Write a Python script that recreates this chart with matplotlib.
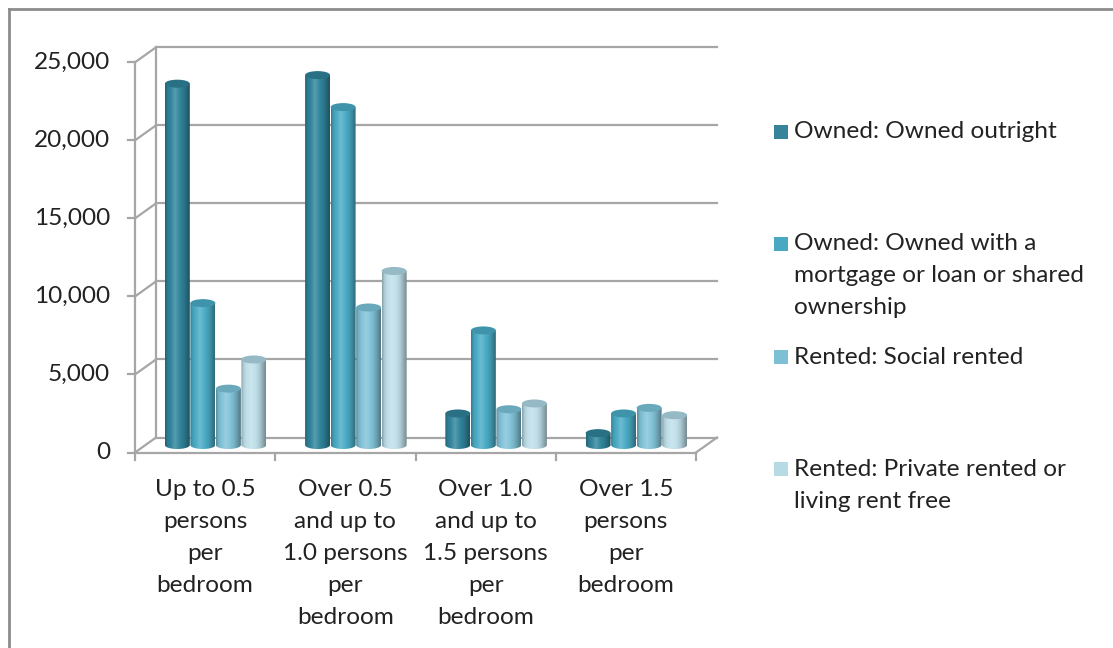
import numpy as np
import matplotlib
matplotlib.use("Agg")
import matplotlib.pyplot as plt
from matplotlib.patches import Polygon, Ellipse, Rectangle
from matplotlib.lines import Line2D
from matplotlib.colors import to_rgb

plt.rcParams['font.family'] = ['Lato', 'DejaVu Sans']

categories = ["Up to 0.5\npersons\nper\nbedroom",
              "Over 0.5\nand up to\n1.0 persons\nper\nbedroom",
              "Over 1.0\nand up to\n1.5 persons\nper\nbedroom",
              "Over 1.5\npersons\nper\nbedroom"]
series = ["Owned: Owned outright",
          "Owned: Owned with a\nmortgage or loan or shared\nownership",
          "Rented: Social rented",
          "Rented: Private rented or\nliving rent free"]
owned_outright = [23150, 23700, 2020, 760]
owned_mortgage = [9090, 21650, 7340, 2020]
social_rented = [3610, 8810, 2290, 2380]
private_rented = [5480, 11150, 2660, 1910]
values = [owned_outright, owned_mortgage, social_rented, private_rented]
yticks = [0, 5000, 10000, 15000, 20000, 25000]

colors = ["#31859c", "#4bacc6", "#82c3d8", "#bfdfe9"]
cap_colors = ["#2a7085", "#3f94ab", "#6aa8bb", "#95b9c5"]
legend_colors = ["#37849a", "#4aa9c2", "#7dbfd4", "#b7dbe5"]
fs = 17.6
txt_c = "#222222"

W, H = 1113, 648
fig = plt.figure(figsize=(W / 100, H / 100), dpi=100)
fig.patch.set_facecolor("white")

# front plane of the 3d box in pixels
x0p, x1p, y0p, y1p = 135, 696, 452.5, 62.3
ax = fig.add_axes([x0p / W, 1 - y0p / H, (x1p - x0p) / W, (y0p - y1p) / H])
ax.set_xlim(0, 4)
ax.set_ylim(0, 25000)
ax.axis("off")

px_x = (x1p - x0p) / 4.0
px_y = (y0p - y1p) / 25000.0
dx = 21 / px_x          # depth offset (data units)
dy = 15 / px_y

grid_c = "#a6a6a6"
lw = 1.6
# back wall gridlines + side wall diagonals + front axis ticks
for v in yticks:
    ax.plot([dx, 4 + dx], [v + dy, v + dy], color=grid_c, lw=lw, clip_on=False, zorder=1)
    ax.plot([0, dx], [v, v + dy], color=grid_c, lw=lw, clip_on=False, zorder=1)
    ax.plot([-7 / px_x, 0], [v, v], color=grid_c, lw=lw, clip_on=False, zorder=1)
    ax.text(-25 / px_x, v, f"{v:,}", ha="right", va="center", fontsize=fs, color=txt_c)
ax.plot([0, 0], [0, 25000], color=grid_c, lw=lw, clip_on=False, zorder=1)
ax.plot([dx, dx], [dy, 25000 + dy], color=grid_c, lw=lw, clip_on=False, zorder=1)
# floor
ax.plot([0, 4], [0, 0], color=grid_c, lw=lw, clip_on=False, zorder=1)
ax.plot([4, 4 + dx], [0, dy], color=grid_c, lw=lw, clip_on=False, zorder=1)
for i in range(5):
    ax.plot([i, i], [0, -7 / px_y], color=grid_c, lw=lw, clip_on=False, zorder=1)

# category labels
for i, lab in enumerate(categories):
    for k, line in enumerate(lab.split("\n")):
        ax.text(i + 0.5, -(490 - y0p + 32 * k) / px_y, line, ha="center", va="center",
                fontsize=fs, color=txt_c)

# cylinders
prof_x = np.linspace(0, 1, 60)
shade = np.interp(prof_x, [0, 0.1, 0.4, 0.75, 1.0], [0.72, 0.92, 1.12, 0.9, 0.62])
r = 0.089
h = 4 / px_y
spacing = 0.182
zo = 3
for j, vals in enumerate(values):
    base = np.array(to_rgb(colors[j]))
    rgb = np.empty((1, len(prof_x), 3))
    for n, s in enumerate(shade):
        if s >= 1:
            rgb[0, n] = base + (1 - base) * (s - 1) * 1.6
        else:
            rgb[0, n] = base * s
    rgb = np.clip(rgb, 0, 1)
    for i, v in enumerate(vals):
        xc = i + 0.5 + (j - 1.5) * spacing + dx / 2
        yb = dy / 2
        yt = v + dy / 2
        t = np.linspace(np.pi, 2 * np.pi, 40)
        pts = np.column_stack([xc + r * np.cos(t), yb + h * np.sin(t)])
        pts = np.vstack([pts, [xc + r, yt], [xc - r, yt]])
        clip = Polygon(pts, closed=True, transform=ax.transData)
        im = ax.imshow(rgb, extent=(xc - r, xc + r, yb - h, yt), aspect="auto",
                       zorder=zo, interpolation="bilinear")
        im.set_clip_path(clip)
        ax.add_patch(Ellipse((xc, yt), 2 * r, 2 * h, facecolor=cap_colors[j],
                             edgecolor="none", zorder=zo + 0.5))
ax.set_xlim(0, 4)
ax.set_ylim(0, 25000)

# legend
entry_y = [132, 244, 357, 469]
for j, lab in enumerate(series):
    fig.add_artist(Rectangle((774 / W, 1 - (entry_y[j] + 7) / H), 14 / W, 14 / H,
                             facecolor=legend_colors[j], edgecolor="none"))
    for k, line in enumerate(lab.split("\n")):
        fig.text(794 / W, 1 - (entry_y[j] + 32 * k) / H, line, ha="left", va="center",
                 fontsize=fs, color=txt_c)

# chart area border
fig.add_artist(Line2D([9 / W, 9 / W], [0, 1 - 9 / H], color="#8c8c8c", lw=2))
fig.add_artist(Line2D([9 / W, 1], [1 - 9 / H, 1 - 9 / H], color="#8c8c8c", lw=2))

fig.savefig("out.png", dpi=100)
